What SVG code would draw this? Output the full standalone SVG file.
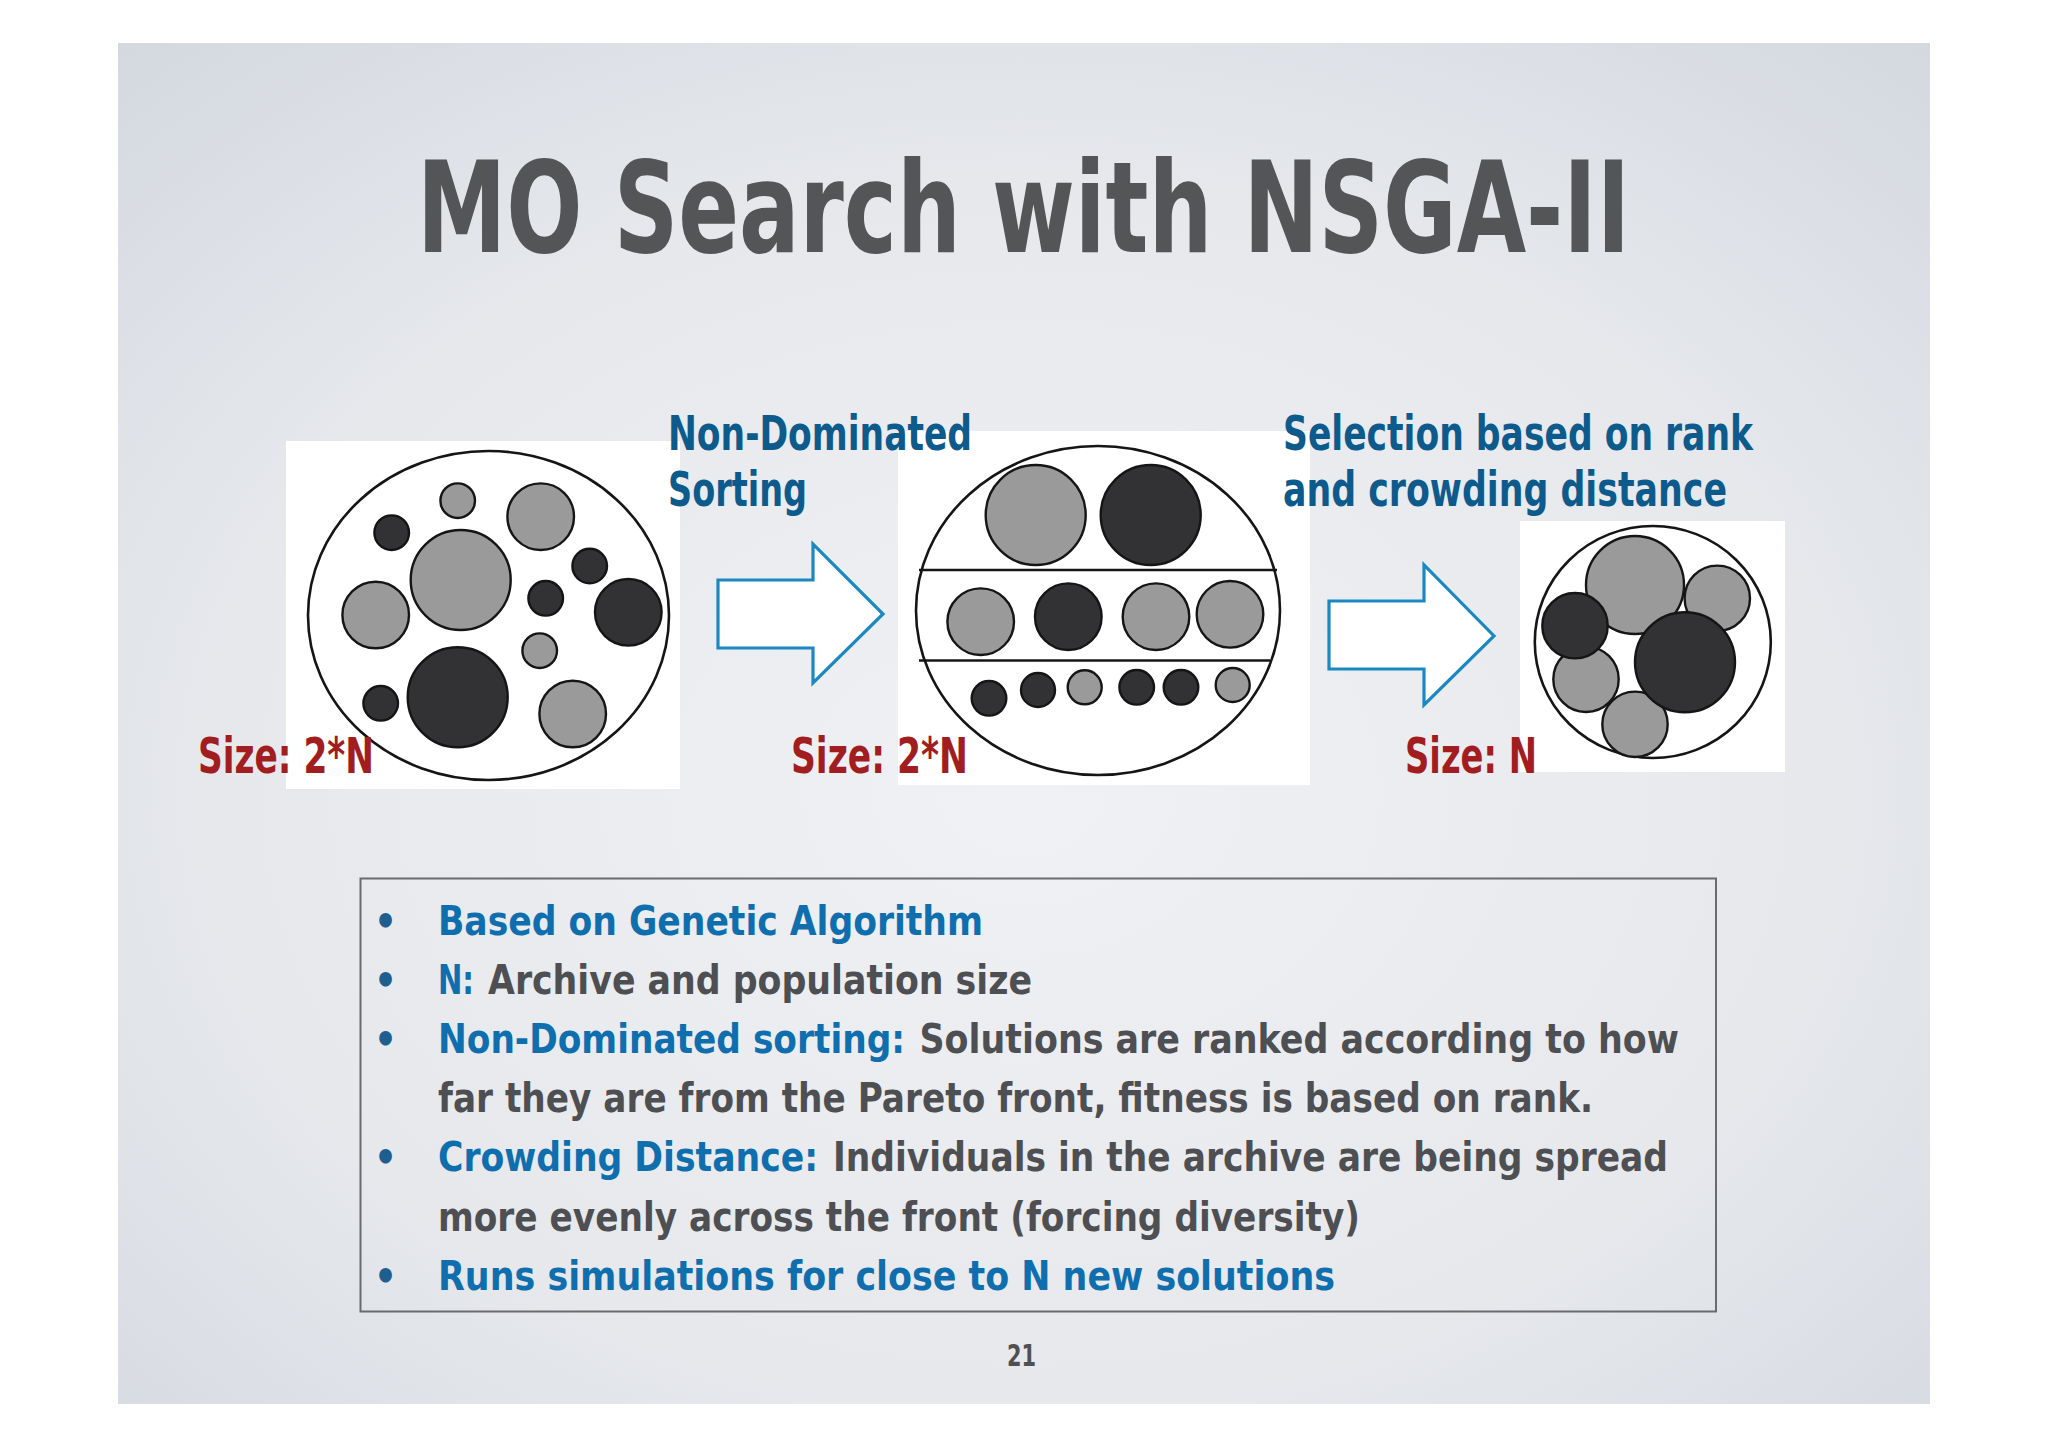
<svg xmlns="http://www.w3.org/2000/svg" width="2048" height="1447" viewBox="0 0 2048 1447">
<defs>
<radialGradient id="bg" cx="0.5" cy="0.55" r="0.75">
<stop offset="0" stop-color="#eff1f4"/>
<stop offset="0.6" stop-color="#e6e8ec"/>
<stop offset="1" stop-color="#d3d8df"/>
</radialGradient>
<style>
text{font-family:"Liberation Sans Narrow","DejaVu Sans Condensed","Liberation Sans",sans-serif;font-weight:bold}
.title{font-size:127px;fill:#545557}
.lab{font-size:48px;fill:#0d5a8c}
.size{font-size:50px;fill:#a11d1f}
.bl{font-size:41px;fill:#0f6eae}
.gr{font-size:41px;fill:#4e4f52}
.bul{font-size:40px;fill:#1e5f8f}
.pic{fill:#ffffff}
.outer{fill:none;stroke:#151515;stroke-width:2.6}
.lg{fill:#9a9a9b;stroke:#151515;stroke-width:2.4}
.dk{fill:#323234;stroke:#151515;stroke-width:2.4}
.arrow{fill:#ffffff;stroke:#1b88c2;stroke-width:3.2;stroke-linejoin:miter}
.box{fill:none;stroke:#6a6b6e;stroke-width:2}
</style>
</defs>
<rect x="0" y="0" width="2048" height="1447" fill="#ffffff"/>
<rect x="118" y="43" width="1812" height="1361" fill="url(#bg)"/>

<g id="title">
<text class="title" x="417" y="252" textLength="1213" lengthAdjust="spacingAndGlyphs">MO Search with NSGA-II</text>
</g>

<g id="population">
<rect class="pic" x="286" y="441" width="394" height="348"/>
<ellipse class="outer" cx="488.5" cy="615.5" rx="180.5" ry="164.5"/>
<circle class="lg" cx="457.7" cy="500.7" r="17.3"/>
<circle class="lg" cx="540.7" cy="516.7" r="33.3"/>
<circle class="dk" cx="391.7" cy="532.7" r="17.3"/>
<circle class="lg" cx="460.7" cy="580" r="50"/>
<circle class="dk" cx="589.7" cy="566" r="17.3"/>
<circle class="lg" cx="375.7" cy="615" r="33.3"/>
<circle class="dk" cx="545.7" cy="598.3" r="17.3"/>
<circle class="dk" cx="628.3" cy="612.3" r="33.3"/>
<circle class="lg" cx="539.7" cy="650.7" r="17.3"/>
<circle class="dk" cx="457.7" cy="697.3" r="50"/>
<circle class="dk" cx="380.7" cy="703.3" r="17.3"/>
<circle class="lg" cx="572.7" cy="714" r="33.3"/>
<text class="size" x="198" y="773" textLength="176" lengthAdjust="spacingAndGlyphs">Size: 2*N</text>
</g>

<g id="sorted">
<rect class="pic" x="898" y="431" width="412" height="354"/>
<ellipse class="outer" cx="1098" cy="610.5" rx="182" ry="164.5"/>
<line x1="919" y1="570" x2="1277" y2="570" stroke="#151515" stroke-width="2.6"/>
<line x1="919" y1="660.5" x2="1270" y2="660.5" stroke="#151515" stroke-width="2.6"/>
<circle class="lg" cx="1035.7" cy="515" r="50"/>
<circle class="dk" cx="1150.7" cy="515" r="50"/>
<circle class="lg" cx="980.7" cy="621.7" r="33.3"/>
<circle class="dk" cx="1068.3" cy="616.7" r="33.3"/>
<circle class="lg" cx="1156" cy="616.7" r="33.3"/>
<circle class="lg" cx="1230" cy="614.3" r="33.3"/>
<circle class="dk" cx="989" cy="698.3" r="17.3"/>
<circle class="dk" cx="1038" cy="690" r="17"/>
<circle class="lg" cx="1084.7" cy="687.3" r="17"/>
<circle class="dk" cx="1136.7" cy="687.3" r="17.3"/>
<circle class="dk" cx="1181" cy="687.3" r="17.3"/>
<circle class="lg" cx="1232.7" cy="685" r="17"/>
<text class="lab" x="668" y="450" textLength="304" lengthAdjust="spacingAndGlyphs">Non-Dominated</text>
<text class="lab" x="668" y="506" textLength="139" lengthAdjust="spacingAndGlyphs">Sorting</text>
<text class="size" x="791" y="773" textLength="177" lengthAdjust="spacingAndGlyphs">Size: 2*N</text>
</g>

<g id="selected">
<rect class="pic" x="1520" y="521" width="265" height="251"/>
<ellipse class="outer" cx="1652.8" cy="642" rx="118" ry="116"/>
<circle class="lg" cx="1635" cy="585" r="49"/>
<circle class="lg" cx="1717.3" cy="598.3" r="32.7"/>
<circle class="lg" cx="1586" cy="679.3" r="32.7"/>
<circle class="lg" cx="1635" cy="724.3" r="32.7"/>
<circle class="dk" cx="1575" cy="625.7" r="32.7"/>
<circle class="dk" cx="1685" cy="662.3" r="50"/>
<text class="lab" x="1283" y="450" textLength="470" lengthAdjust="spacingAndGlyphs">Selection based on rank</text>
<text class="lab" x="1283" y="506" textLength="444" lengthAdjust="spacingAndGlyphs">and crowding distance</text>
<text class="size" x="1405" y="773" textLength="132" lengthAdjust="spacingAndGlyphs">Size: N</text>
</g>

<g id="connectors">
<polygon class="arrow" points="718,580 813,580 813,544 883,614 813,683 813,648 718,648"/>
<polygon class="arrow" points="1329,601 1424,601 1424,565 1494,636 1424,705 1424,669 1329,669"/>
</g>

<g id="notes">
<rect class="box" x="360.5" y="878.5" width="1355.5" height="433"/>
<text class="bul" x="374" y="935">•</text>
<text class="bl" x="438" y="935" textLength="545" lengthAdjust="spacingAndGlyphs">Based on Genetic Algorithm</text>
<text class="bul" x="374" y="994">•</text>
<text class="bl" x="438" y="994" textLength="36" lengthAdjust="spacingAndGlyphs">N:</text>
<text class="gr" x="488" y="994" textLength="544" lengthAdjust="spacingAndGlyphs">Archive and population size</text>
<text class="bul" x="374" y="1053">•</text>
<text class="bl" x="438" y="1053" textLength="467" lengthAdjust="spacingAndGlyphs">Non-Dominated sorting:</text>
<text class="gr" x="919.5" y="1053" textLength="759.5" lengthAdjust="spacingAndGlyphs">Solutions are ranked according to how</text>
<text class="gr" x="438" y="1112" textLength="1155" lengthAdjust="spacingAndGlyphs">far they are from the Pareto front, fitness is based on rank.</text>
<text class="bul" x="374" y="1171">•</text>
<text class="bl" x="438" y="1171" textLength="380" lengthAdjust="spacingAndGlyphs">Crowding Distance:</text>
<text class="gr" x="833" y="1171" textLength="835" lengthAdjust="spacingAndGlyphs">Individuals in the archive are being spread</text>
<text class="gr" x="438" y="1231" textLength="922" lengthAdjust="spacingAndGlyphs">more evenly across the front (forcing diversity)</text>
<text class="bul" x="374" y="1290">•</text>
<text class="bl" x="438" y="1290" textLength="897" lengthAdjust="spacingAndGlyphs">Runs simulations for close to N new solutions</text>
</g>

<g id="page-number">
<text x="1007" y="1366" textLength="29" lengthAdjust="spacingAndGlyphs" style="font-size:30px;fill:#4f5052">21</text>
</g>
</svg>
